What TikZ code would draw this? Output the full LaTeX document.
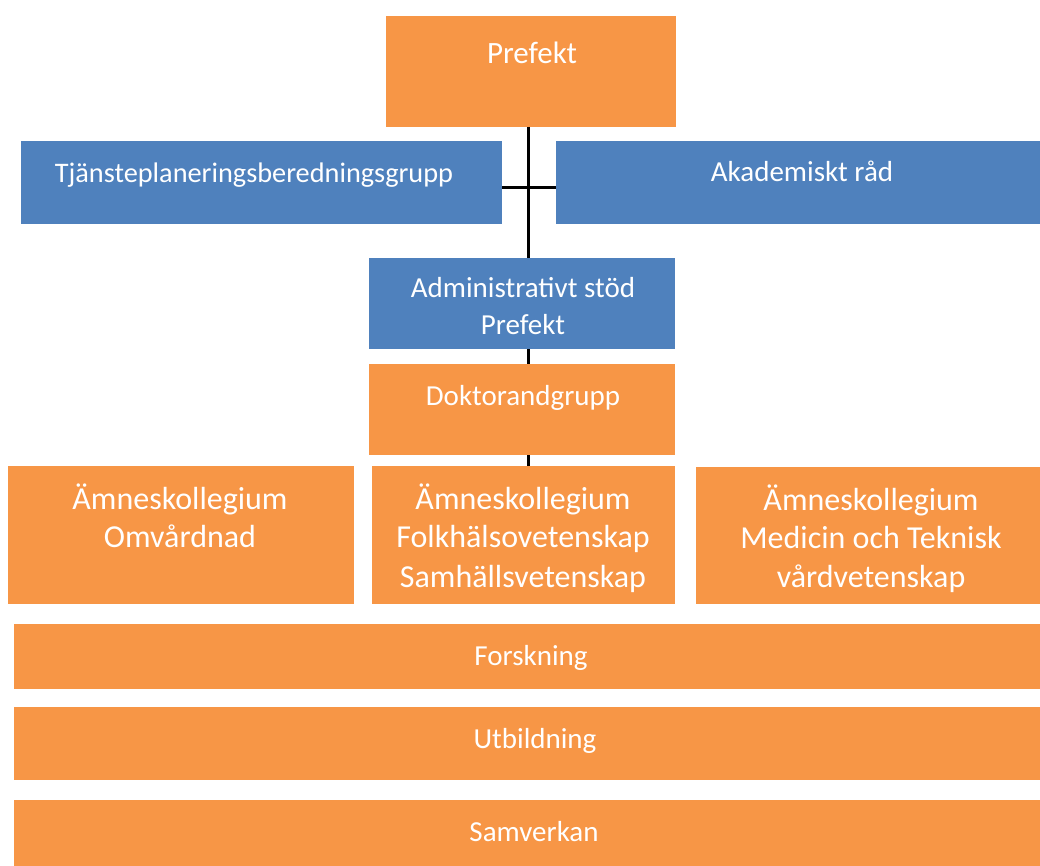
\documentclass[tikz,border=0pt]{standalone}
\usepackage{fontspec}
\setmainfont{Carlito}
\definecolor{orng}{HTML}{F79646}
\definecolor{blu}{HTML}{4F81BD}
\begin{document}
\begin{tikzpicture}[x=1pt,y=-1pt,
  box/.style={rectangle,inner sep=0pt,outer sep=0pt,draw=none},
  obox/.style={box,fill=orng},
  bbox/.style={box,fill=blu},
  txt/.style={text=white,inner sep=0pt,anchor=base,font=\fontsize{29}{35}\selectfont},
  btxt/.style={txt,font=\fontsize{32}{39}\selectfont},
  conn/.style={draw=black,line width=3pt}]
\useasboundingbox (0,0) rectangle (1040,866);
% boxes
\node[obox,minimum width=290,minimum height=111] (pref) at (531,71.5) {};
\node[bbox,minimum width=481,minimum height=83] (tj) at (261.5,182.5) {};
\node[bbox,minimum width=484,minimum height=83] (ak) at (798,182.5) {};
\node[bbox,minimum width=306,minimum height=91] (adm) at (522,303.5) {};
\node[obox,minimum width=306,minimum height=91] (dok) at (522,409.5) {};
\node[obox,minimum width=346,minimum height=138] (am1) at (181,535) {};
\node[obox,minimum width=303,minimum height=138] (am2) at (523.5,535) {};
\node[obox,minimum width=344,minimum height=137] (am3) at (868,535.5) {};
\node[obox,minimum width=1026,minimum height=65] (fo) at (527,656.5) {};
\node[obox,minimum width=1026,minimum height=73] (ut) at (527,743.5) {};
\node[obox,minimum width=1026,minimum height=66] (sa) at (527,833) {};
% connectors
\coordinate (vx) at (528,0);
\draw[conn] (pref.south -| vx) -- (adm.north -| vx);
\draw[conn] (adm.south -| vx) -- (dok.north -| vx);
\draw[conn] (dok.south -| vx) -- (am2.north -| vx);
\coordinate (hy) at (0,188);
\draw[conn] (tj.east |- hy) -- (ak.west |- hy);
% texts
\node[txt,font=\fontsize{31}{37}\selectfont] (tpref) at (532,64) {Prefekt};
\node[txt,font=\fontsize{28.3}{34}\selectfont] (ttj) at (254,182.5) {Tjänsteplaneringsberedningsgrupp};
\node[txt] (tak) at (802,182) {Akademiskt råd};
\node[txt] (tadm1) at (523,297.5) {Administrativt stöd};
\node[txt] (tadm2) at (523,334) {Prefekt};
\node[txt] (tdok) at (523,405) {Doktorandgrupp};
\node[btxt] (ta11) at (180,509) {Ämneskollegium};
\node[btxt] (ta12) at (180,547) {Omvårdnad};
\node[btxt] (ta21) at (523,509) {Ämneskollegium};
\node[btxt] (ta22) at (523,547) {Folkhälsovetenskap};
\node[btxt] (ta23) at (523,587) {Samhällsvetenskap};
\node[btxt] (ta31) at (871,510) {Ämneskollegium};
\node[btxt] (ta32) at (871,548) {Medicin och Teknisk};
\node[btxt] (ta33) at (871,587) {vårdvetenskap};
\node[txt] (tfo) at (531,665) {Forskning};
\node[txt] (tut) at (535,748) {Utbildning};
\node[txt] (tsa) at (534,841) {Samverkan};
\end{tikzpicture}
\end{document}
